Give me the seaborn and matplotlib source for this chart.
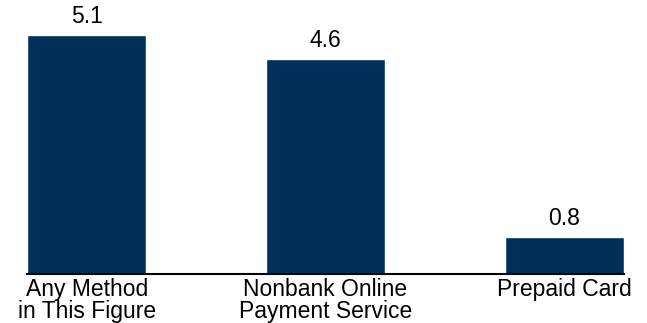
import matplotlib
matplotlib.use("Agg")
import matplotlib.pyplot as plt
import seaborn as sns
import pandas as pd

# data
categories = ["Any Method\nin This Figure", "Nonbank Online\nPayment Service", "Prepaid Card"]
values = [5.1, 4.6, 0.8]

BAR_COLOR = "#003057"

sns.set_style("white")
plt.rcParams["font.family"] = ["Liberation Sans", "DejaVu Sans"]
plt.rcParams["text.color"] = "black"
plt.rcParams["xtick.color"] = "black"

df = pd.DataFrame({"category": categories, "value": values})

fig = plt.figure(figsize=(6.47, 3.23), dpi=100)
ax = fig.add_axes([27 / 647, (323 - 274) / 323, (624 - 27) / 647, 274 / 323])

sns.barplot(data=df, x="category", y="value", color=BAR_COLOR, width=0.5,
            saturation=1, ax=ax)

ax.set_xlim(-0.25, 2.25)
ax.set_ylim(0, 5.85)
ax.set_xlabel("")
ax.set_ylabel("")
ax.set_yticks([])

for side in ["top", "right", "left"]:
    ax.spines[side].set_visible(False)
ax.spines["bottom"].set_color("black")
ax.spines["bottom"].set_linewidth(1.5)

ax.tick_params(axis="x", length=0, pad=3, labelcolor="black")
for lbl in ax.get_xticklabels():
    lbl.set_fontsize(16.5)
    lbl.set_linespacing(0.95)

for i, v in enumerate(values):
    ax.annotate(f"{v:.1f}", (i, v), xytext=(0, 5), textcoords="offset points",
                ha="center", va="bottom", fontsize=16.5, color="black")

fig.savefig("out.png", dpi=100)
